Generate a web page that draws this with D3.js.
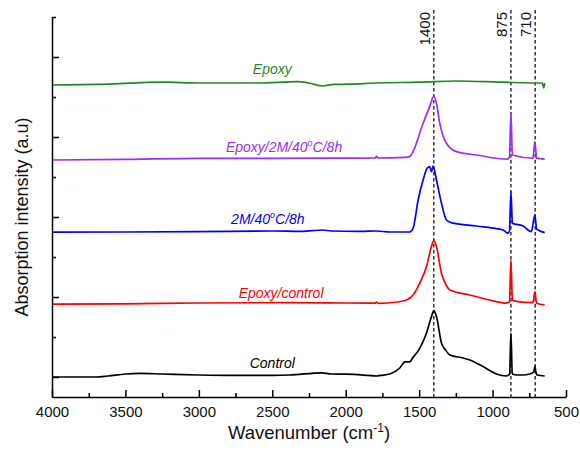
<!DOCTYPE html>
<html>
<head>
<meta charset="utf-8">
<script src="https://cdn.jsdelivr.net/npm/d3@7"></script>
<style>
  body { margin: 0; background: #fff; }
  text { font-family: Arial, "Liberation Sans", sans-serif; }
</style>
</head>
<body>
<div id="chart"></div>
<script>
// spectra: [wavenumber cm-1, absorption a.u. (offset stacked)]
const control = [[4000,1.00],[3700,1.00],[3620,1.05],[3500,1.15],[3400,1.18],[3250,1.15],[3000,1.10],[2750,1.08],[2500,1.08],[2380,1.10],[2163,1.21],[2100,1.15],[1995,1.14],[1850,1.08],[1790,1.05],[1760,1.08],[1700,1.15],[1632,1.45],[1597,1.76],[1564,1.76],[1540,2.00],[1510,2.27],[1450,3.20],[1416,4.02],[1400,4.32],[1382,4.02],[1348,2.70],[1320,2.35],[1291,2.10],[1200,1.95],[1155,1.85],[1065,1.52],[974,1.15],[906,1.05],[884,1.15],[875,3.19],[866,1.15],[830,1.10],[793,1.10],[747,1.15],[720,1.25],[712,1.52],[705,1.25],[697,1.10],[645,1.05]];
const epoxyControl = [[4000,4.64],[3500,4.66],[3000,4.70],[2400,4.72],[2000,4.70],[1800,4.69],[1790,4.75],[1780,4.68],[1650,4.75],[1586,4.85],[1541,5.10],[1496,5.69],[1450,6.52],[1416,7.52],[1400,7.82],[1382,7.52],[1348,6.19],[1320,5.65],[1291,5.35],[1155,5.10],[1020,4.85],[906,4.69],[885,4.77],[875,6.85],[865,4.85],[840,4.78],[725,4.72],[712,5.27],[700,4.69],[645,4.60]];
const treated = [[4000,8.24],[3500,8.25],[3000,8.27],[2500,8.30],[2300,8.28],[2156,8.35],[2100,8.30],[1900,8.28],[1790,8.30],[1700,8.25],[1564,8.25],[1541,8.44],[1507,9.85],[1473,10.85],[1446,11.44],[1428,11.52],[1416,11.27],[1405,11.55],[1382,10.85],[1348,9.69],[1314,8.85],[1269,8.69],[1110,8.55],[929,8.35],[895,8.19],[885,8.30],[875,10.27],[865,8.69],[793,8.55],[736,8.27],[712,9.10],[700,8.40],[690,8.35],[645,8.22]];
const epoxyTreated = [[4000,11.85],[3500,11.88],[3000,11.93],[2500,11.93],[2000,11.94],[1800,11.95],[1790,12.03],[1780,11.95],[1600,11.98],[1564,12.02],[1541,12.27],[1473,13.69],[1428,14.52],[1400,15.05],[1382,14.69],[1360,13.69],[1314,12.69],[1246,12.27],[1110,12.10],[900,11.89],[885,12.00],[875,14.22],[865,12.10],[725,11.94],[712,12.77],[700,11.94],[645,11.89]];
const epoxy = [[4000,15.60],[3700,15.63],[3244,15.74],[3000,15.70],[2600,15.70],[2326,15.77],[2250,15.70],[2156,15.55],[2080,15.63],[1972,15.64],[1800,15.70],[1496,15.74],[1246,15.80],[930,15.74],[700,15.70],[660,15.70],[652,15.45],[645,15.70]];

const seriesNames = ["Control", "Epoxy/control", "2M/40°C/8h", "Epoxy/2M/40°C/8h", "Epoxy"];
const seriesData = [control, epoxyControl, treated, epoxyTreated, epoxy];
const peaks = [1400, 875, 710];
const xMajor = [4000, 3500, 3000, 2500, 2000, 1500, 1000, 500];
const xMinor = [3750, 3250, 2750, 2250, 1750, 1250, 750];
const yMajor = [1, 5, 9, 13, 17];
const yMinor = [3, 7, 11, 15, 19];

// styling / layout
const colors = ["#000000", "#ff0000", "#0000ff", "#9a2cff", "#1e8c1e"];
const labelPos = [[2500, 1.45], [2440, 4.95], [2530, 8.65], [2420, 12.27], [2500, 16.15]];

const width = 580, height = 452;
const x = d3.scaleLinear().domain([4000, 500]).range([52, 566]);
const y = d3.scaleLinear().domain([0, 19]).range([397, 17]);

const svg = d3.select("#chart").append("svg")
  .attr("width", width)
  .attr("height", height);

// dashed guide lines
svg.append("g")
  .selectAll("line")
  .data(peaks)
  .join("line")
    .attr("x1", d => x(d)).attr("x2", d => x(d))
    .attr("y1", 10).attr("y2", y(0))
    .attr("stroke", "#000")
    .attr("stroke-width", 1.2)
    .attr("stroke-dasharray", "3.5,2.5");

svg.append("g")
  .selectAll("text")
  .data(peaks)
  .join("text")
    .attr("transform", d => `translate(${x(d) - 4},12) rotate(-90)`)
    .attr("text-anchor", "end")
    .attr("font-size", 15)
    .attr("fill", "#111")
    .text(d => d);

// spectra
const line = d3.line()
  .x(d => x(d[0]))
  .y(d => y(d[1]))
  .curve(d3.curveMonotoneX);

svg.append("g")
  .selectAll("path")
  .data(seriesData)
  .join("path")
    .attr("fill", "none")
    .attr("stroke", (d, i) => colors[i])
    .attr("stroke-width", 1.7)
    .attr("stroke-linejoin", "round")
    .attr("d", line);

// series labels, degree sign drawn as superscript o
const labels = svg.append("g")
  .selectAll("text")
  .data(seriesNames)
  .join("text")
    .attr("x", (d, i) => x(labelPos[i][0]))
    .attr("y", (d, i) => y(labelPos[i][1]))
    .attr("text-anchor", "middle")
    .attr("font-size", 14)
    .attr("font-style", "italic")
    .attr("fill", (d, i) => colors[i]);

labels.each(function(d) {
  const t = d3.select(this);
  const parts = d.split("°");
  t.append("tspan").text(parts[0]);
  if (parts.length > 1) {
    t.append("tspan").attr("font-size", 9).attr("dy", -6).text("o");
    t.append("tspan").attr("dy", 6).text(parts[1]);
  }
});

// axes
svg.append("g")
  .attr("transform", `translate(0,${y(0)})`)
  .call(d3.axisBottom(x).tickValues(xMajor).tickFormat(d3.format("d"))
    .tickSize(-7).tickSizeOuter(0).tickPadding(9));
svg.append("g")
  .attr("transform", `translate(0,${y(0)})`)
  .call(d3.axisBottom(x).tickValues(xMinor).tickSize(-4).tickFormat(""))
  .call(g => g.select(".domain").remove());

svg.append("g")
  .attr("transform", `translate(${x(4000)},0)`)
  .call(d3.axisLeft(y).tickValues(yMajor).tickSize(-7).tickSizeOuter(0).tickFormat(""));
svg.append("g")
  .attr("transform", `translate(${x(4000)},0)`)
  .call(d3.axisLeft(y).tickValues(yMinor).tickSize(-4).tickFormat(""))
  .call(g => g.select(".domain").remove());

svg.selectAll(".domain, .tick line").attr("stroke", "#000").attr("stroke-width", 1.5);
svg.selectAll(".tick text")
  .attr("font-size", 15)
  .attr("fill", "#111")
  .attr("font-family", "Arial, 'Liberation Sans', sans-serif");

// axis titles
const xTitle = svg.append("text")
  .attr("x", 309)
  .attr("y", 439)
  .attr("text-anchor", "middle")
  .attr("font-size", 18.5)
  .attr("fill", "#111");
xTitle.append("tspan").text("Wavenumber (cm");
xTitle.append("tspan").attr("font-size", 12).attr("dy", -7).text("-1");
xTitle.append("tspan").attr("dy", 7).text(")");

svg.append("text")
  .attr("transform", "translate(28,217) rotate(-90)")
  .attr("text-anchor", "middle")
  .attr("font-size", 18)
  .attr("fill", "#111")
  .text("Absorption intensity (a.u)");
</script>
</body>
</html>
